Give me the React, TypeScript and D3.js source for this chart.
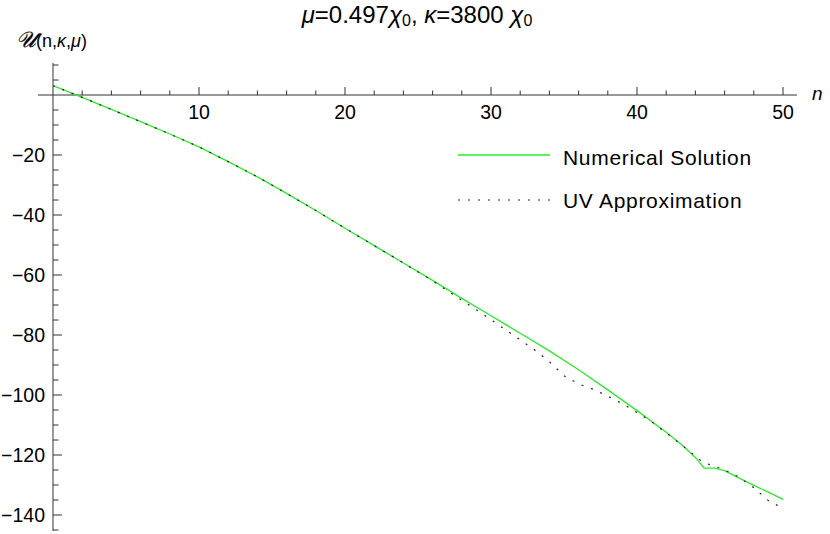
import React from "react";
import * as d3 from "d3";

const numN = [0, 2, 4, 6, 8, 10, 12, 14, 16, 18, 20, 22, 24, 26, 28, 30, 32, 34, 36, 38, 40, 42, 43, 44, 44.6, 45.3, 46, 47, 48, 49, 50];
const numU = [3.1, -0.8, -4.8, -8.9, -13.0, -17.3, -22.2, -27.3, -32.8, -38.5, -44.4, -50.2, -56.0, -61.8, -67.8, -73.6, -79.4, -85.3, -91.6, -98.3, -105.2, -112.4, -116.3, -120.8, -124.4, -124.4, -125.2, -127.7, -130.1, -132.4, -134.8];

const uvN = [0, 2, 4, 6, 8, 10, 12, 14, 16, 18, 20, 22, 24, 26, 27, 28, 29, 30, 31, 32, 33, 34, 35, 36, 37, 38, 39, 40, 41, 42, 43, 44, 44.5, 45.3, 46, 47, 48, 49, 50];
const uvU = [3.1, -0.8, -4.8, -8.9, -13.0, -17.3, -22.2, -27.3, -32.8, -38.5, -44.4, -50.2, -56.0, -61.9, -65.2, -68.4, -71.6, -74.9, -78.3, -81.6, -85.0, -88.9, -93.6, -96.3, -98.1, -100.4, -102.9, -105.8, -108.9, -112.6, -116.4, -120.3, -122.4, -123.7, -125.0, -127.4, -130.9, -135.2, -137.8];

const xMajor = [10, 20, 30, 40, 50];
const xMinor = [2, 4, 6, 8, 12, 14, 16, 18, 22, 24, 26, 28, 32, 34, 36, 38, 42, 44, 46, 48];
const yMajor = [-20, -40, -60, -80, -100, -120, -140];
const yMinor = [10, 5, -5, -10, -15, -25, -30, -35, -45, -50, -55, -65, -70, -75, -85, -90, -95, -105, -110, -115, -125, -130, -135, -145];

const FONT = "'Liberation Sans', Arial, sans-serif";
const GREEN = "#2aeb2a";

export default function App() {
  const x = d3.scaleLinear().domain([0, 50]).range([53, 783]);
  const y = d3.scaleLinear().domain([0, -140]).range([95, 515]);
  const line = d3
    .line<[number, number]>()
    .x((d) => x(d[0]))
    .y((d) => y(d[1]));
  const numPts = numN.map((n, i) => [n, numU[i]] as [number, number]);
  const uvPts = uvN.map((n, i) => [n, uvU[i]] as [number, number]);
  const axisColor = "#333";
  const x0 = x(0);
  const y0 = y(0);
  return (
    <svg
      width={830}
      height={534}
      style={{ position: "absolute", left: 0, top: 0, background: "#fff" }}
      fontFamily={FONT}
    >
      <rect width={830} height={534} fill="#fff" />
      {/* title */}
      <text x={417} y={23} fontSize={24} textAnchor="middle" fill="#000">
        <tspan fontStyle="italic">μ</tspan>
        <tspan>=0.497</tspan>
        <tspan fontStyle="italic">χ</tspan>
        <tspan fontSize={16} dy={3}>0</tspan>
        <tspan dy={-3}>, </tspan>
        <tspan fontStyle="italic">κ</tspan>
        <tspan>=3800 </tspan>
        <tspan fontStyle="italic">χ</tspan>
        <tspan fontSize={16} dy={3}>0</tspan>
      </text>
      {/* y label */}
      <text x={16} y={47} fontSize={18} fill="#000">
        <tspan fontFamily="'DejaVu Serif', 'DejaVu Sans', serif" fontStyle="italic" fontSize={22} stroke="#000" strokeWidth={0.3}>𝒰</tspan>
        <tspan>(n,</tspan>
        <tspan fontStyle="italic">κ</tspan>
        <tspan>,</tspan>
        <tspan fontStyle="italic">μ</tspan>
        <tspan>)</tspan>
      </text>
      {/* x label */}
      <text x={812} y={100} fontSize={19} fontStyle="italic" fill="#000">n</text>
      {/* axes */}
      <line x1={38} x2={797} y1={y0} y2={y0} stroke={axisColor} strokeWidth={1} />
      <line x1={x0} x2={x0} y1={63} y2={531} stroke={axisColor} strokeWidth={1} />
      {xMajor.map((t) => (
        <g key={"xm" + t}>
          <line x1={x(t)} x2={x(t)} y1={y0} y2={y0 - 8} stroke={axisColor} />
          <text x={x(t)} y={y0 + 24} fontSize={19.5} textAnchor="middle" fill="#000">{t}</text>
        </g>
      ))}
      {xMinor.map((t) => (
        <line key={"xn" + t} x1={x(t)} x2={x(t)} y1={y0} y2={y0 - 4.5} stroke={axisColor} />
      ))}
      {yMajor.map((t) => (
        <g key={"ym" + t}>
          <line x1={x0} x2={x0 + 9} y1={y(t)} y2={y(t)} stroke={axisColor} />
          <text x={x0 - 8} y={y(t) + 6.7} fontSize={19.5} textAnchor="end" fill="#000">
            {"−" + Math.abs(t)}
          </text>
        </g>
      ))}
      {yMinor.map((t) => (
        <line key={"yn" + t} x1={x0} x2={x0 + 5.5} y1={y(t)} y2={y(t)} stroke={axisColor} />
      ))}
      {/* series */}
      <path d={line(numPts) || ""} fill="none" stroke={GREEN} strokeWidth={1.3} />
      <path d={line(uvPts) || ""} fill="none" stroke="#222" strokeWidth={1.2} strokeDasharray="2,8" />
      {/* legend */}
      <line x1={458} x2={550} y1={155} y2={155} stroke={GREEN} strokeWidth={1.3} />
      <text x={563} y={164.5} fontSize={21} letterSpacing={0.7} fill="#000">Numerical Solution</text>
      <line x1={458} x2={550} y1={200} y2={200} stroke="#222" strokeWidth={1.2} strokeDasharray="2,8" />
      <text x={563} y={208} fontSize={21} letterSpacing={0.7} fill="#000">UV Approximation</text>
    </svg>
  );
}
